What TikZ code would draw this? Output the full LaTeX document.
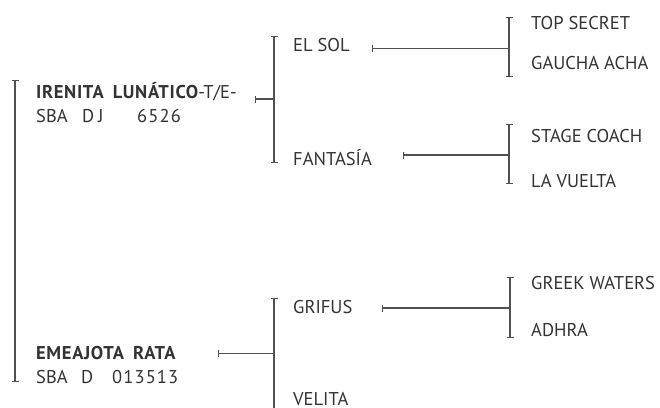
\documentclass[tikz,border=0pt]{standalone}
\usepackage{fontspec}
\setmainfont{PT Sans}
\newfontfamily\namefont[LetterSpace=3.5]{PT Sans Bold}
\newfontfamily\numfont[LetterSpace=6]{PT Sans}
\usetikzlibrary{arrows.meta}
\definecolor{ink}{HTML}{333333}
\definecolor{rule}{HTML}{505050}
\begin{document}
\begin{tikzpicture}[x=1pt,y=-1pt,
  lbl/.style={anchor=base west,inner sep=0pt,text=ink,font=\fontsize{18.5}{24}\selectfont},
  brk/.style={draw=rule,line width=1.3pt,{Bar[width=7pt,line width=1.3pt]}-{Bar[width=7pt,line width=1.3pt]}},
  link/.style={draw=rule,line width=1.3pt,{Bar[width=7pt,line width=1.3pt]}-}]
\useasboundingbox (0,0) rectangle (660,407);
% names
\node[lbl] (ire) at (36,98.5) {{\namefont IRENITA\hspace*{9pt}LUNÁTICO}-T/E-};
\node[lbl] (ire2) at (36,122) {\makebox[46pt][l]{SBA}\makebox[16pt][l]{D}\makebox[39pt][l]{J}{\numfont 6526}};
\node[lbl] (eme) at (36,359) {{\namefont EMEAJOTA\hspace*{9pt}RATA}};
\node[lbl] (eme2) at (36,383) {\makebox[45pt][l]{SBA}\makebox[31pt][l]{D}{\numfont 013513}};
\node[lbl] (sol) at (293,51) {EL SOL};
\node[lbl] (fan) at (293,165) {FANTASÍA};
\node[lbl] (gri) at (293,313) {GRIFUS};
\node[lbl] (vel) at (293,405) {VELITA};
\node[lbl] (top) at (531,29) {TOP SECRET};
\node[lbl] (gau) at (531,69) {GAUCHA ACHA};
\node[lbl] (sta) at (531,142) {STAGE COACH};
\node[lbl] (lav) at (531,187) {LA VUELTA};
\node[lbl] (gre) at (531,289) {GREEK WATERS};
\node[lbl] (adh) at (531,336) {ADHRA};
% bracket coordinates
\coordinate (b0t) at (15,80);  \coordinate (b0b) at (15,382);
\coordinate (b1t) at (274,36); \coordinate (b1b) at (274,163);
\coordinate (b2t) at (274,298); \coordinate (b2b) at (274,440);
\coordinate (b3t) at (509,17); \coordinate (b3b) at (509,77);
\coordinate (b4t) at (509,124); \coordinate (b4b) at (509,184);
\coordinate (b5t) at (510,277); \coordinate (b5b) at (510,338);
% link start points
\coordinate (l1) at (255,99);  \coordinate (m1) at (274,99);
\coordinate (l2) at (218,353.5); \coordinate (m2) at (274,353.5);
\coordinate (l3) at (372,48.5); \coordinate (m3) at (509,48.5);
\coordinate (l4) at (403,155); \coordinate (m4) at (509,155);
\coordinate (l5) at (382,308); \coordinate (m5) at (510,308);
% brackets
\path[brk] (b0t) -- (b0b);
\path[brk] (b1t) -- (b1b);
\path[draw=rule,line width=1.3pt,{Bar[width=7pt,line width=1.3pt]}-] (b2t) -- (b2b);
\path[brk] (b3t) -- (b3b);
\path[brk] (b4t) -- (b4b);
\path[brk] (b5t) -- (b5b);
% links
\path[link] (l1) -- (m1);
\path[link] (l2) -- (m2);
\path[link] (l3) -- (m3);
\path[link] (l4) -- (m4);
\path[link] (l5) -- (m5);
\end{tikzpicture}
\end{document}
